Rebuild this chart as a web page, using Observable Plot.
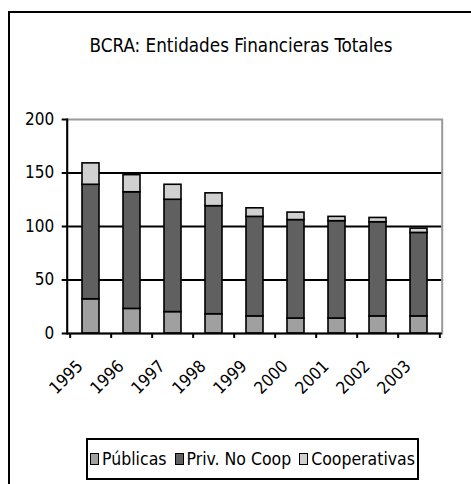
<!DOCTYPE html>
<html>
<head>
<meta charset="utf-8">
<script src="https://cdn.jsdelivr.net/npm/d3@7"></script>
<script src="https://cdn.jsdelivr.net/npm/@observablehq/plot@0.6"></script>
<style>
  html, body { margin: 0; padding: 0; background: #fff; overflow: hidden; }
  #page { position: relative; width: 471px; height: 484px; overflow: hidden;
          font-family: "DejaVu Sans Condensed", "DejaVu Sans", sans-serif; font-stretch: condensed; }
  #frame { position: absolute; left: 8px; top: 11px; width: 600px; height: 600px; border: 2px solid #000; box-sizing: border-box; }
  #title { position: absolute; left: 0; width: 482px; top: 37px; line-height: 1; text-align: center; font-size: 18.7px; color: #000; }
  #chart { position: absolute; left: 0; top: 100px; }
  #chart svg text { font-stretch: condensed; }
  #legend { position: absolute; left: 86px; top: 438px; width: 333px; height: 42px; border: 2px solid #000;
            box-sizing: border-box; display: flex; align-items: center; justify-content: center; font-size: 17.5px; white-space: nowrap; }
  .item { display: flex; align-items: center; margin: 0 4px; }
  .sw { width: 7px; height: 10px; border: 1px solid #000; margin-right: 3px; }
</style>
</head>
<body>
<div id="page">
  <div id="frame"></div>
  <div id="title">BCRA: Entidades Financieras Totales</div>
  <div id="chart"></div>
  <div id="legend"></div>
</div>
<script>
const years = ["1995", "1996", "1997", "1998", "1999", "2000", "2001", "2002", "2003"];
const publicas = [32, 23, 20, 18, 16, 14, 14, 16, 16];
const privNoCoop = [107, 109, 105, 101, 93, 92, 91, 88, 78];
const cooperativas = [20, 16, 14, 12, 8, 7, 4, 4, 4];
const seriesNames = ["Públicas", "Priv. No Coop", "Cooperativas"];
const seriesColors = ["#a0a0a0", "#606060", "#d0d0d0"];
const yTicks = [0, 50, 100, 150, 200];
const gridValues = [50, 100, 150];

const seriesValues = [publicas, privNoCoop, cooperativas];
const rows = [];
seriesNames.forEach((s, si) => years.forEach((y, i) => rows.push({year: y, series: s, value: seriesValues[si][i]})));

const W = 471, H = 330, mL = 66.7, mR = 29.3, mT = 19, mB = 97;
const step = (W - mL - mR) / years.length;
const font = '"DejaVu Sans Condensed", "DejaVu Sans", sans-serif';

const chart = Plot.plot({
  width: W, height: H,
  marginLeft: mL, marginRight: mR, marginTop: mT, marginBottom: mB,
  style: {fontFamily: font, fontSize: "17px", color: "#000", background: "transparent"},
  x: {type: "band", domain: years, paddingInner: 0.59, paddingOuter: 0.295, label: null},
  y: {domain: [0, 200], label: null},
  color: {domain: seriesNames, range: seriesColors},
  marks: [
    Plot.ruleY(gridValues, {stroke: "#000", strokeWidth: 2}),
    Plot.frame({stroke: "#999", strokeWidth: 2}),
    Plot.barY(rows, {x: "year", y: "value", fill: "series", order: seriesNames, stroke: "#000", strokeWidth: 1.6}),
    Plot.frame({anchor: "left", stroke: "#000", strokeWidth: 2}),
    Plot.ruleY([0], {stroke: "#000", strokeWidth: 2}),
    Plot.axisY({ticks: yTicks, tickSize: 5, tickPadding: 8, strokeWidth: 2, fontSize: 17, label: null}),
    Plot.axisX({ticks: years, tickSize: 5, text: null, dx: -step / 2, strokeWidth: 2, label: null}),
    Plot.axisX({ticks: [years[years.length - 1]], tickSize: 5, text: null, dx: step / 2, strokeWidth: 2, label: null}),
    Plot.text(years, {x: d => d, frameAnchor: "bottom", dx: -11, dy: 30, rotate: -45, textAnchor: "end", lineAnchor: "middle", fontSize: 17})
  ]
});
document.getElementById("chart").appendChild(chart);

const legend = document.getElementById("legend");
seriesNames.forEach((s, i) => {
  const it = document.createElement("div");
  it.className = "item";
  const sw = document.createElement("div");
  sw.className = "sw";
  sw.style.background = seriesColors[i];
  const t = document.createElement("span");
  t.textContent = s;
  it.appendChild(sw); it.appendChild(t);
  legend.appendChild(it);
});
</script>
</body>
</html>
